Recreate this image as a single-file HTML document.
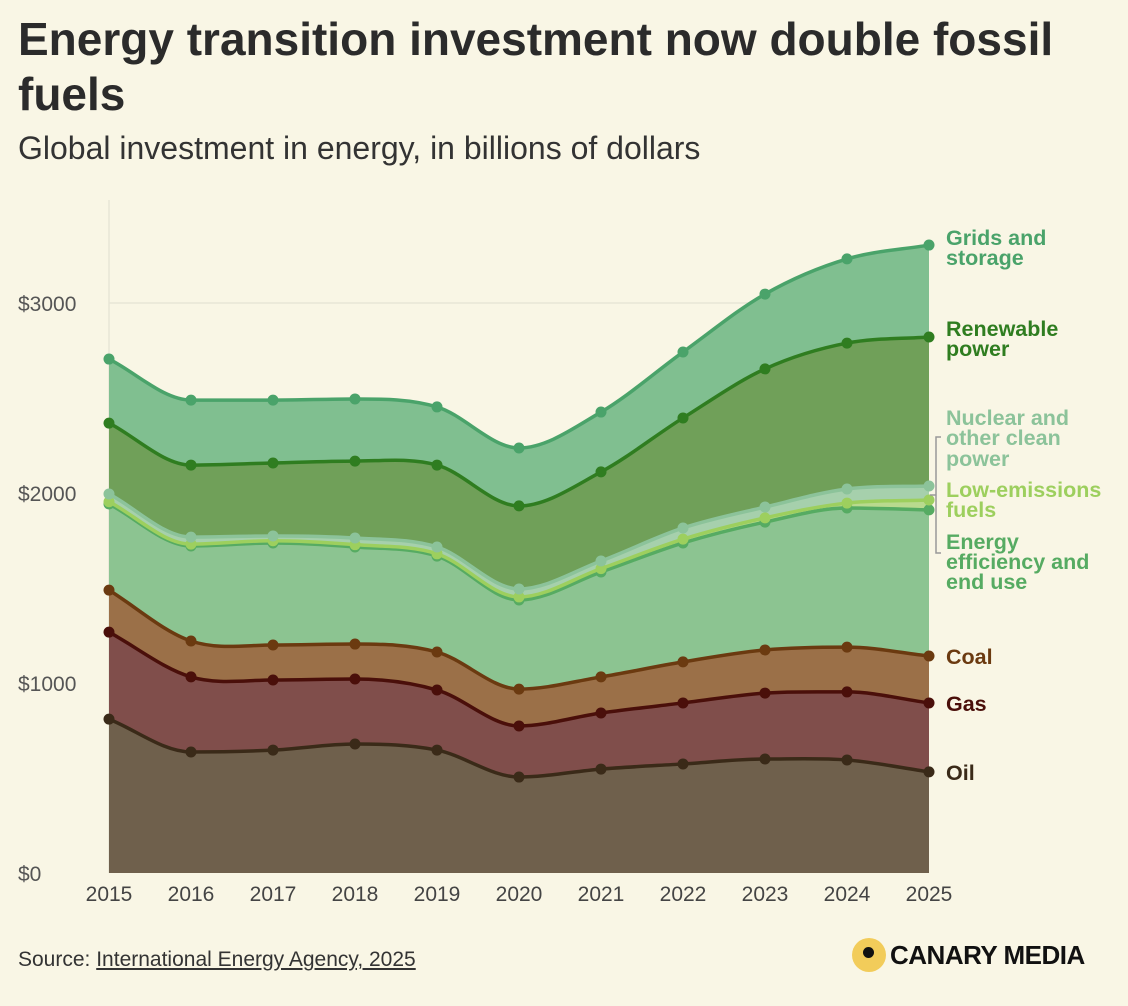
<!DOCTYPE html>
<html><head><meta charset="utf-8"><style>
body{margin:0;background:#f9f6e5;font-family:"Liberation Sans",sans-serif;}
#wrap{position:relative;width:1128px;height:1006px;overflow:hidden;background:#f9f6e5;}
h1{position:absolute;left:18px;top:12px;margin:0;font-size:46px;line-height:55px;font-weight:bold;color:#2b2b2b;width:1060px;}
.sub{position:absolute;left:18px;top:130px;font-size:32px;color:#333;}
.src{position:absolute;left:18px;top:948px;font-size:21px;color:#333;}
.src u{color:#333}
.logo{position:absolute;left:852px;top:938px;display:flex;align-items:center;font-weight:bold;font-size:26px;color:#111;letter-spacing:-0.5px}
.logo .dot{width:34px;height:34px;border-radius:50%;background:#f2cc5a;position:relative;margin-right:4px}
.logo .dot:after{content:"";position:absolute;left:11px;top:9px;width:11px;height:11px;border-radius:50%;background:#111}
</style></head><body><div id="wrap">
<h1>Energy transition investment now double fossil fuels</h1>
<div class="sub">Global investment in energy, in billions of dollars</div>
<svg id="chart" width="1128" height="1006" style="position:absolute;left:0;top:0"></svg>
<div class="src">Source: <u>International Energy Agency, 2025</u></div>
<div class="logo"><span class="dot"></span>CANARY MEDIA</div>
</div>
<script>
const years=[2015,2016,2017,2018,2019,2020,2021,2022,2023,2024,2025];
const oil=[810,637,647,679,647,505,547,574,600,595,532];
const gas=[458,395,369,342,316,269,295,321,347,358,363];
const coal=[221,189,184,184,200,194,190,216,227,236,247];
const efficiency=[453,500,537,511,505,469,552,626,673,732,769];
const lowEmissions=[12,10,12,12,12,16,18,20,22,26,52];
const nuclear=[41,37,25,35,36,42,40,59,57,74,74];
const renewable=[373,379,384,405,431,437,469,579,727,768,784];
const grids=[337,342,331,327,306,305,315,347,394,443,484];
const yTicks=[0,1000,2000,3000];
const yTickLabels=["$0","$1000","$2000","$3000"];
const seriesNames=["oil","gas","coal","efficiency","low-emissions","nuclear","renewable","grids"];
const seriesData=[oil,gas,coal,efficiency,lowEmissions,nuclear,renewable,grids];
const fills=["#6f604c","#804e4b","#9b7048","#8cc491","#b9da8e","#a6d0ac","#70a059","#80bf90"];
const strokes=["#3a2a18","#4a0f0a","#6b3a10","#56ab62","#9dcf5e","#8cc39a","#2f7d20","#4aa36a"];
const labels=[["Oil"],["Gas"],["Coal"],["Energy","efficiency and","end use"],["Low-emissions","fuels"],["Nuclear and","other clean","power"],["Renewable","power"],["Grids and","storage"]];
const labelY=[[772],[703],[656],[541,561,581],[489,509],[417,437,458],[328,348],[237,257]];
const x=y=>109+(y-2015)*82;
const yS=v=>873-v*0.19;
const NS="http://www.w3.org/2000/svg";
const svg=document.getElementById('chart');
function mk(t,a){const e=document.createElementNS(NS,t);for(const k in a)e.setAttribute(k,a[k]);svg.appendChild(e);return e;}
yTicks.forEach((t,i)=>{
 if(t>0){const g=mk('line',{x1:109,x2:929,y1:yS(t),y2:yS(t),stroke:'#e8e5d6','stroke-width':1.5});
 
 }
 const tx=mk('text',{x:18,y:yS(t)+8,'font-size':21,fill:'#555'});tx.textContent=yTickLabels[i];
 
 
});
mk('line',{x1:109,x2:109,y1:200,y2:873,stroke:'#e8e5d6','stroke-width':1.5});
const cum=[];let base=years.map(()=>0);
seriesData.forEach(s=>{const top=s.map((v,i)=>base[i]+v);cum.push({lo:base,hi:top});base=top;});
function pts(arr){return arr.map((v,i)=>[x(years[i]),yS(v)]);}
function curve(p,move){
 let d=move?`M${p[0][0]},${p[0][1]}`:`L${p[0][0]},${p[0][1]}`;
 const n=p.length,m=[];
 for(let i=0;i<n;i++){const a=p[Math.max(0,i-1)],b=p[Math.min(n-1,i+1)];let s=(b[1]-a[1])/(b[0]-a[0]);
  const s1=i>0?(p[i][1]-p[i-1][1]):null,s2=i<n-1?(p[i+1][1]-p[i][1]):null;
  if(s1!==null&&s2!==null&&s1*s2<=0)s=0;m.push(s);}
 for(let i=0;i<n-1;i++){const dx=(p[i+1][0]-p[i][0])/3;
  d+=`C${p[i][0]+dx},${p[i][1]+m[i]*dx} ${p[i+1][0]-dx},${p[i+1][1]-m[i+1]*dx} ${p[i+1][0]},${p[i+1][1]}`;}
 return d;}
cum.forEach((c,k)=>{
 const top=pts(c.hi),bot=pts(c.lo).reverse();
 const a=mk('path',{d:curve(top,true)+curve(bot,false)+'Z',fill:fills[k],stroke:'none'});
 
 
});
cum.forEach((c,k)=>{
 const l=mk('path',{d:curve(pts(c.hi),true),fill:'none',stroke:strokes[k],'stroke-width':3.5});
 
 
 pts(c.hi).forEach(p=>{const d=mk('circle',{cx:p[0],cy:p[1],r:5.5,fill:strokes[k]});
  
  });
 labels[k].forEach((t,j)=>{const tx=mk('text',{x:946,y:labelY[k][j]+8,'font-size':21.5,'font-weight':'bold',fill:strokes[k]});tx.textContent=t;
  
  });
});
mk('path',{d:'M941,437 h-5 v116 h5 M936,495 h-6',fill:'none',stroke:'#999','stroke-width':1.5});
years.forEach(y=>{const t=mk('text',{x:x(y),y:901,'font-size':21,fill:'#444','text-anchor':'middle'});t.textContent=y;
 
 });
</script></body></html>
